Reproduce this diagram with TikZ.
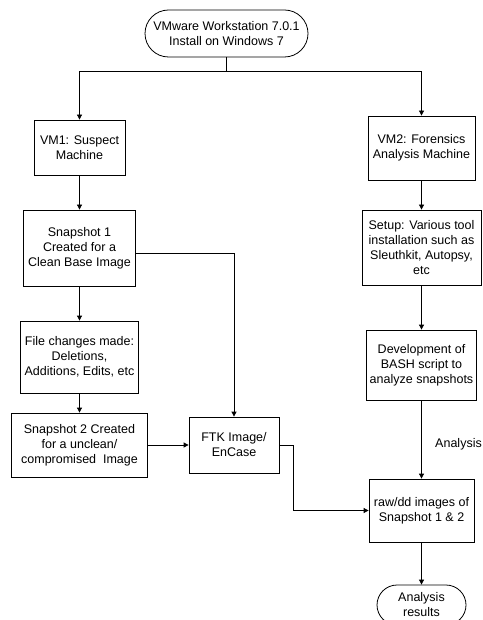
\documentclass[tikz,border=0pt]{standalone}
\usepackage{fontspec}
\setmainfont{Liberation Sans}
\usetikzlibrary{arrows.meta,shapes.misc}

\begin{document}
\begin{tikzpicture}
  [x=1pt,y=-1pt,line width=0.8pt,
   every node/.style={align=center,font=\fontsize{12.5}{15}\selectfont},
   proc/.style={rectangle,draw,inner sep=2pt},
   term/.style={rounded rectangle,draw,inner sep=2pt},
   arr/.style={-{Triangle[length=5pt,width=5pt]}}]
  \clip (0,0) rectangle (482,620);
  \useasboundingbox (0,0) rectangle (482,620);

  \node [term,minimum width=167,minimum height=47] (top) at (226.5,33.5) {VMware Workstation 7.0.1\\Install on Windows 7};
  \node [proc,minimum width=91,minimum height=55] (vm1) at (79.5,147.5) {VM1: Suspect\\Machine};
  \node [proc,minimum width=107,minimum height=64] (vm2) at (421.5,148) {VM2: Forensics\\Analysis Machine};
  \node [proc,minimum width=112,minimum height=76] (snap1) at (79.5,248) {Snapshot 1\\Created for a\\Clean Base Image};
  \node [proc,minimum width=118,minimum height=72] (files) at (79.5,357) {File changes made:\\Deletions,\\Additions, Edits, etc};
  \node [proc,minimum width=136,minimum height=64] (snap2) at (79.5,445) {Snapshot 2 Created\\for a unclean/\\compromised\ \ Image};
  \node [proc,minimum width=90,minimum height=56] (ftk) at (234,445) {FTK Image/\\EnCase};
  \node [proc,minimum width=119,minimum height=75] (setup) at (421.5,247.5) {Setup: Various tool\\installation such as\\Sleuthkit, Autopsy,\\etc};
  \node [proc,minimum width=110,minimum height=70] (dev) at (421.5,365) {Development of\\BASH script to\\analyze snapshots};
  \node [proc,minimum width=105,minimum height=63] (raw) at (421.5,510.5) {raw/dd images of\\Snapshot 1 \& 2};
  \node [term,minimum width=93,minimum height=40] (res) at (421.5,605) {Analysis\\results};

  \coordinate (split) at (226.5,71);
  \draw (top.south) -- (split);
  \draw [arr] (split) -| (vm1.north);
  \draw [arr] (split) -| (vm2.north);

  \foreach \from/\to in {vm1/snap1,snap1/files,files/snap2,snap2/ftk,vm2/setup,setup/dev,raw/res}
    \draw [arr] (\from) -- (\to);

  \draw [arr] ([yshift=-5]snap1.east) -| (ftk.north);
  \draw [arr] (ftk.east) -- ++(14,0) |- (raw.west);
  \draw [arr] (dev) -- node [pos=0.56,right=10pt] {Analysis} (raw);
\end{tikzpicture}
\end{document}
